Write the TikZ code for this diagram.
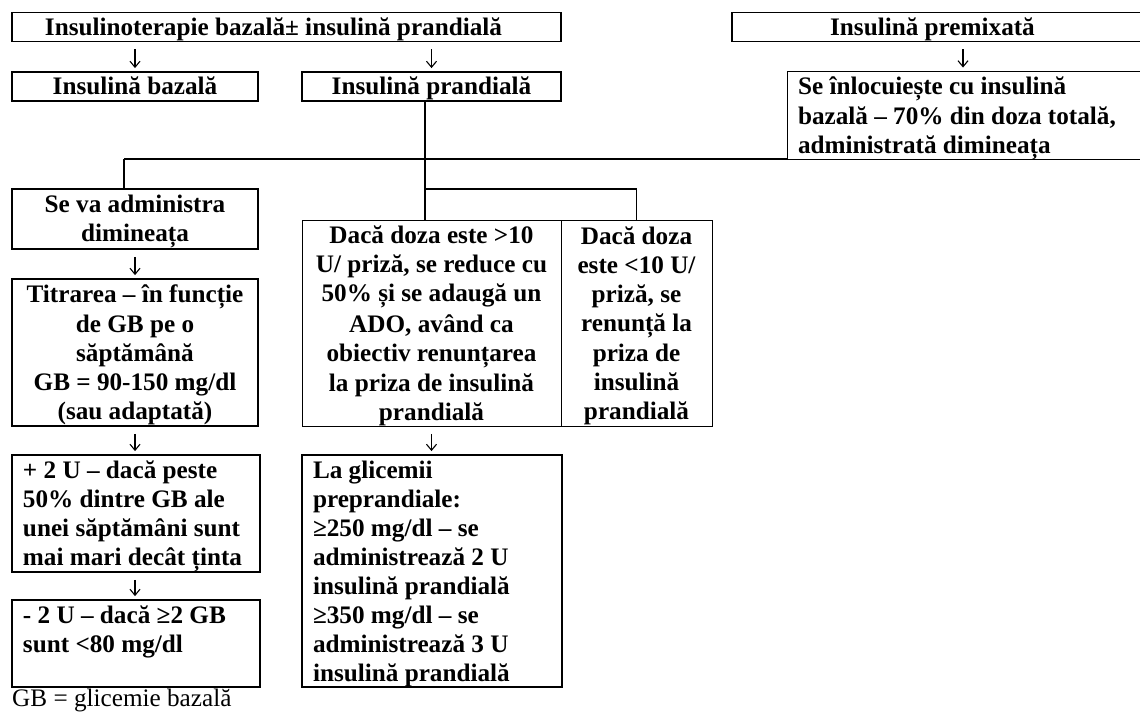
\documentclass[tikz,border=0pt]{standalone}
\usepackage{fontspec}
\setmainfont{Liberation Serif}
\usetikzlibrary{arrows.meta}
\newcommand\lst{\rule[-6pt]{0pt}{29pt}}
\begin{document}
\begin{tikzpicture}[x=1pt,y=-1pt,
  every node/.style={font=\fontsize{25.2}{29}\selectfont\bfseries, inner sep=0pt},
  bx/.style={draw, line width=1.8pt, inner xsep=2pt, inner ysep=0pt, align=center},
  tbx/.style={bx, line width=1pt},
  lbx/.style={draw, line width=1.8pt, inner xsep=11pt, inner ysep=0pt, align=flush left},
  tlbx/.style={lbx, line width=1pt},
  conn/.style={line width=1.2pt},
  down/.style={line width=1.1pt, -{Straight Barb[length=6pt,width=10pt,line width=1.1pt]}, shorten <=7pt, shorten >=3pt}
]
\path[use as bounding box] (0,0) rectangle (1140,719);
\clip (0,0) rectangle (1140,719);

% top row
\node[bx, minimum width=549pt, minimum height=29pt] (A) at (286.5,27) {\lst Insulinoterapie bazală± insulină prandială\hspace*{26pt}};
\node[bx, minimum width=413pt, minimum height=29pt] (B) at (938.5,27) {\lst Insulină premixată\hspace*{12pt}};

% second row
\node[bx, minimum width=246pt, minimum height=29pt] (C) at (135,86.5) {\lst Insulină bazală};
\node[bx, minimum width=259pt, minimum height=29pt] (D) at (431.5,86.5) {\lst Insulină prandială};
\node[tlbx, text width=336pt, minimum height=87pt] (E) at (966,115.5)
  {\lst Se înlocuiește cu insulină\\\lst bazală – 70\% din doza totală,\\\lst administrată dimineața};

% left column
\node[bx, minimum width=246pt, minimum height=60pt] (F) at (135,219)
  {\lst Se va administra\\\lst dimineața};
\node[bx, minimum width=246pt, minimum height=147pt] (G) at (135,352.5)
  {\lst Titrarea – în funcție\\\lst de GB pe o\\\lst săptămână\\\lst GB = 90-150 mg/dl\\\lst (sau adaptată)};
\node[lbx, text width=226pt, minimum height=117pt] (H) at (136,513.5)
  {\lst + 2 U – dacă peste\\\lst 50\% dintre GB ale\\\lst unei săptămâni sunt\\\lst mai mari decât ținta};
\node[lbx, text width=226pt, minimum height=87pt] (I) at (136,643.5)
  {\lst - 2 U – dacă ≥2 GB\\\lst sunt <80 mg/dl\\\lst};
\node[font=\fontsize{25.2}{29}\selectfont\mdseries, anchor=base west] (gb) at (12,706) {GB = glicemie bazală};

% middle
\node[tbx, minimum width=259pt, minimum height=205pt] (J) at (431.5,323.5)
  {\lst Dacă doza este >10\\\lst U/ priză, se reduce cu\\\lst 50\% și se adaugă un\\\lst ADO, având ca\\\lst obiectiv renunțarea\\\lst la priza de insulină\\\lst prandială};
\node[tbx, minimum width=151pt, minimum height=205pt] (K) at (636.5,323.5)
  {\lst Dacă doza\\\lst este <10 U/\\\lst priză, se\\\lst renunță la\\\lst priza de\\\lst insulină\\\lst prandială};
\node[lbx, text width=238pt, minimum height=232pt] (L) at (432,571)
  {\lst La glicemii\\\lst preprandiale:\\\lst ≥250 mg/dl – se\\\lst administrează 2 U\\\lst insulină prandială\\\lst ≥350 mg/dl – se\\\lst administrează 3 U\\\lst insulină prandială};

% arrows between rows
\draw[down] (C.north |- A.south) -- (C.north);
\draw[down] (D.north |- A.south) -- (D.north);
\draw[down] ([xshift=-3pt]E.north |- B.south) -- ([xshift=-3pt]E.north);
\draw[down] (F.south) -- (G.north);
\draw[down] (G.south) -- (G.south |- H.north);
\draw[down] (G.south |- H.south) -- (G.south |- I.north);
\draw[down] (J.south) -- (J.south |- L.north);

% tree connectors
\coordinate (d1) at (425,159);
\coordinate (f1) at (124,159);
\coordinate (d2) at (425,189);
\coordinate (k1) at (636.5,189);
\draw[conn] (D.south -| d1) -- (d1);
\draw[conn] (f1) -- (f1 -| E.west);
\draw[conn] (f1) -- (f1 |- F.north);
\draw[conn] (d1) -- (d1 |- J.north);
\draw[conn] (d2) -- (k1) -- (K.north);
\end{tikzpicture}
\end{document}
